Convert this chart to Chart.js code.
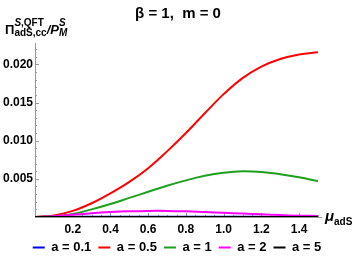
<!DOCTYPE html>
<html>
<head>
<meta charset="utf-8">
<script src="https://cdn.jsdelivr.net/npm/chart.js@4"></script>
<style>
  html, body { margin: 0; padding: 0; background: #fff; }
  #wrap { width: 354px; height: 257px; position: relative; }
</style>
</head>
<body>
<div id="wrap"><canvas id="grafico"></canvas></div>
<script>
// valores
const muValues = [0, 0.1, 0.2, 0.3, 0.4, 0.5, 0.6, 0.7, 0.8, 0.9, 1.0, 1.1, 1.2, 1.3, 1.4, 1.5];

const serieA01 = [0, 0.00001, 0.00002, 0.00003, 0.00003, 0.00003, 0.00003, 0.00003, 0.00003, 0.00002, 0.00002, 0.00002, 0.00002, 0.00001, 0.00001, 0.00001];
const serieA05 = [0, 0.0002, 0.0008, 0.0018, 0.0031, 0.0046, 0.0064, 0.0086, 0.0110, 0.0136, 0.0161, 0.0182, 0.0197, 0.0207, 0.0213, 0.0216];
const serieA1  = [0, 0.0001, 0.0004, 0.0010, 0.0017, 0.0025, 0.0033, 0.0041, 0.0048, 0.0054, 0.0058, 0.0060, 0.0059, 0.0056, 0.0052, 0.0047];
const serieA2  = [0, 0.0001, 0.0003, 0.0005, 0.00065, 0.00075, 0.0008, 0.0008, 0.00075, 0.00065, 0.00055, 0.00045, 0.00035, 0.00025, 0.00018, 0.00012];
const serieA5  = [0, 0, 0, 0, 0, 0, 0, 0, 0, 0, 0, 0, 0, 0, 0, 0];

const rotulos = ['a = 0.1', 'a = 0.5', 'a = 1', 'a = 2', 'a = 5'];
const cores = ['#0000ff', '#ff0000', '#1ea01e', '#ff00ff', '#000000'];
const series = [serieA01, serieA05, serieA1, serieA2, serieA5];

const FONTE = '"Liberation Sans", Arial, sans-serif';

// eixos no estilo Mathematica (ticks para dentro)
const eixosPlugin = {
    id: 'eixos',
    beforeDatasetsDraw(chart) {
        const { ctx, chartArea, scales: { x, y } } = chart;
        const x0 = x.getPixelForValue(0);
        const y0 = y.getPixelForValue(0);
        ctx.save();
        ctx.strokeStyle = '#999';
        ctx.lineWidth = 1;
        ctx.beginPath();
        ctx.moveTo(chartArea.left, y0 + 0.5);
        ctx.lineTo(chartArea.right + 4, y0 + 0.5);
        ctx.moveTo(x0 + 0.5, y0);
        ctx.lineTo(x0 + 0.5, chartArea.top);
        // ticks y
        for (let i = 1; i <= 22; i++) {
            const py = Math.round(y.getPixelForValue(i * 0.001)) + 0.5;
            const len = i % 5 === 0 ? 4 : 2;
            ctx.moveTo(x0, py);
            ctx.lineTo(x0 + len, py);
        }
        // ticks x
        for (let i = 1; i <= 30; i++) {
            const px = Math.round(x.getPixelForValue(i * 0.05)) + 0.5;
            const len = i % 4 === 0 ? 4 : 2;
            ctx.moveTo(px, y0);
            ctx.lineTo(px, y0 - len);
        }
        ctx.stroke();
        ctx.restore();
    },
    afterDraw(chart) {
        const { ctx } = chart;
        ctx.save();
        ctx.fillStyle = '#000';
        ctx.textBaseline = 'alphabetic';

        // titulo
        ctx.font = 'bold 15px ' + FONTE;
        ctx.textAlign = 'center';
        ctx.fillText('\u03b2 = 1,  m = 0', 178, 18);

        // rótulo do eixo y
        ctx.textAlign = 'left';
        let xx = 5;
        ctx.font = 'bold 13px ' + FONTE;
        ctx.fillText('\u03a0', xx, 34);
        xx += ctx.measureText('\u03a0').width;
        ctx.font = 'italic bold 10px ' + FONTE;
        ctx.fillText('S', xx, 26);
        let wS = ctx.measureText('S').width;
        ctx.font = 'bold 10px ' + FONTE;
        ctx.fillText(',QFT', xx + wS, 26);
        const wSup = wS + ctx.measureText(',QFT').width;
        ctx.fillText('adS,cc', xx, 36);
        const wSub = ctx.measureText('adS,cc').width;
        xx += Math.max(wSup, wSub);
        ctx.font = 'italic bold 13px ' + FONTE;
        ctx.fillText('/P', xx, 34);
        xx += ctx.measureText('/P').width;
        ctx.font = 'italic bold 10px ' + FONTE;
        ctx.fillText('S', xx, 26);
        ctx.fillText('M', xx, 36);

        // rótulo do eixo x
        ctx.font = 'italic bold 15px ' + FONTE;
        ctx.fillText('\u03bc', 325, 221);
        const wMu = ctx.measureText('\u03bc').width;
        ctx.font = 'bold 10px ' + FONTE;
        ctx.fillText('adS', 325 + wMu, 225);
        ctx.restore();
    }
};

const graficoEl = document.getElementById('grafico');

const chart = new Chart(graficoEl, {
    type: 'line',
    data: {
        datasets: series.map((s, i) => ({
            label: rotulos[i],
            data: muValues.map((m, k) => ({ x: m, y: s[k] })),
            borderColor: cores[i],
            backgroundColor: cores[i],
            borderWidth: 2,
            pointRadius: 0,
            tension: 0.4,
            order: 4 - i
        }))
    },
    options: {
        responsive: true,
        maintainAspectRatio: false,
        animation: false,
        layout: {
            padding: { top: 43, right: 0, left: 0, bottom: -7 }
        },
        scales: {
            x: {
                type: 'linear',
                min: 0,
                max: 1.5,
                grid: { display: false, drawTicks: false },
                border: { display: false },
                ticks: {
                    stepSize: 0.2,
                    includeBounds: false,
                    autoSkip: false,
                    maxRotation: 0,
                    padding: 5,
                    color: '#000',
                    font: { family: FONTE, size: 12, weight: 'bold' },
                    callback: v => v === 0 ? '' : v.toFixed(1)
                },
                afterFit: s => { s.height = 17; }
            },
            y: {
                min: 0,
                max: 0.0228,
                grid: { display: false, drawTicks: false },
                border: { display: false },
                ticks: {
                    stepSize: 0.005,
                    includeBounds: false,
                    padding: 2,
                    color: '#000',
                    font: { family: FONTE, size: 12, weight: 'bold' },
                    callback: v => v === 0 ? '' : v.toFixed(3)
                },
                afterFit: s => { s.width = 35; }
            },
            // espaço à direita para o rótulo μ_adS
            margem: {
                position: 'right',
                grid: { display: false, drawTicks: false },
                border: { display: false },
                ticks: { display: false },
                afterFit: s => { s.width = 36; }
            }
        },
        plugins: {
            legend: {
                position: 'bottom',
                labels: {
                    boxWidth: 12,
                    boxHeight: 2,
                    padding: 7,
                    color: '#000',
                    font: { family: FONTE, size: 13, weight: 'bold' },
                    sort: (a, b) => a.datasetIndex - b.datasetIndex,
                    generateLabels: c => Chart.defaults.plugins.legend.labels.generateLabels(c)
                        .map(l => ({ ...l, lineWidth: 0, fillStyle: l.strokeStyle }))
                }
            },
            tooltip: { enabled: false }
        }
    },
    plugins: [eixosPlugin]
});
</script>
</body>
</html>
